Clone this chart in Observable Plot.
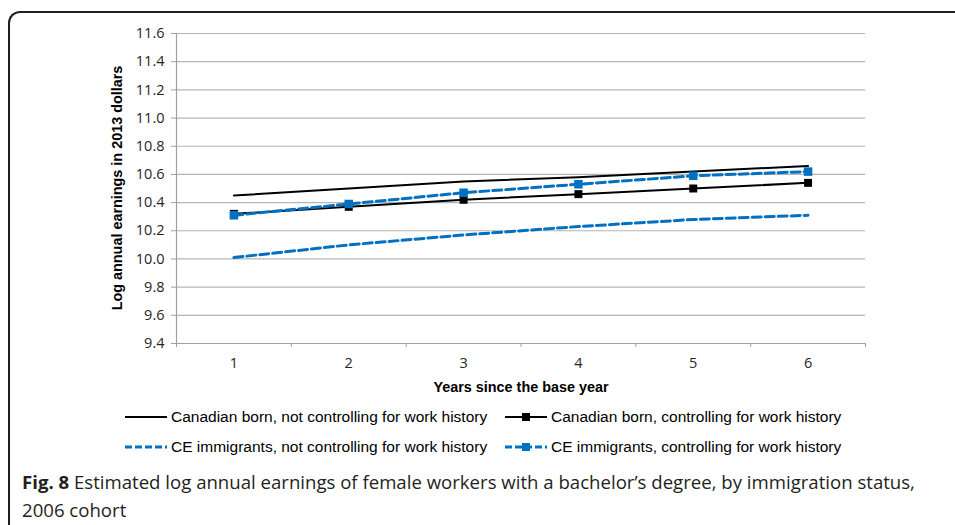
<!DOCTYPE html>
<html>
<head>
<meta charset="utf-8">
<script src="https://cdn.jsdelivr.net/npm/d3@7"></script>
<script src="https://cdn.jsdelivr.net/npm/@observablehq/plot@0.6"></script>
<style>
  html, body { margin: 0; padding: 0; background: #fff; }
  #wrap { position: relative; width: 955px; height: 525px; overflow: hidden; background: #fff; }
  #frame { position: absolute; left: 8px; top: 11px; width: 1000px; height: 560px;
           border-left: 2px solid #231f20; border-top: 2px solid #231f20; border-top-left-radius: 12px; }
  #chart { position: absolute; left: 0; top: 0; }
  .ct { font-family: "Liberation Sans Narrow", "Liberation Sans", sans-serif; color: #000; }
  #xtitle { position: absolute; top: 379px; left: 0; width: 1042px; text-align: center; font-weight: bold; font-size: 14.4px; }
  #ytitle { position: absolute; left: 117px; top: 188px; transform: translate(-50%, -50%) rotate(-90deg); white-space: nowrap; font-weight: bold; font-size: 14.4px; }
  .leg { position: absolute; display: flex; align-items: center; font-size: 15.5px; white-space: nowrap; }
  .leg svg { margin-right: 4px; }
  #caption { position: absolute; left: 22px; top: 468px; width: 930px; font-family: "Open Sans", sans-serif; font-size: 18.6px; line-height: 28px; color: #231f20; white-space: nowrap; }
</style>
</head>
<body>
<div id="wrap">
  <div id="frame"></div>
  <div id="chart"></div>
  <div id="xtitle" class="ct">Years since the base year</div>
  <div id="ytitle" class="ct">Log annual earnings in 2013 dollars</div>
  <div id="legend"></div>
  <div id="caption"><b>Fig. 8</b> Estimated log annual earnings of female workers with a bachelor’s degree, by immigration status,<br>2006 cohort</div>
</div>
<script>
const years = [1, 2, 3, 4, 5, 6];
const seriesNames = [
  "Canadian born, not controlling for work history",
  "Canadian born, controlling for work history",
  "CE immigrants, not controlling for work history",
  "CE immigrants, controlling for work history"
];
const canBornNotCtrl = [10.45, 10.50, 10.55, 10.58, 10.62, 10.66];
const canBornCtrl    = [10.32, 10.37, 10.42, 10.46, 10.50, 10.54];
const ceImmNotCtrl   = [10.01, 10.10, 10.17, 10.23, 10.28, 10.31];
const ceImmCtrl      = [10.31, 10.39, 10.47, 10.53, 10.59, 10.62];
const yTicks = [9.4, 9.6, 9.8, 10.0, 10.2, 10.4, 10.6, 10.8, 11.0, 11.2, 11.4, 11.6];
const xBounds = [0.5, 1.5, 2.5, 3.5, 4.5, 5.5, 6.5];

const black = "#000000";
const blue = "#0070c0";

const toRows = (vals) => years.map((y, i) => ({year: y, value: vals[i]}));
const s1 = toRows(canBornNotCtrl), s2 = toRows(canBornCtrl), s3 = toRows(ceImmNotCtrl), s4 = toRows(ceImmCtrl);

const tickFont = '"Open Sans", sans-serif';

const plot = Plot.plot({
  width: 955,
  height: 400,
  marginLeft: 176,
  marginRight: 90,
  marginTop: 33,
  marginBottom: 57,
  style: {fontFamily: tickFont, fontSize: "14px", color: "#262626", background: "transparent"},
  x: {type: "linear", domain: [0.5, 6.5]},
  y: {type: "linear", domain: [9.4, 11.6]},
  marks: [
    Plot.gridY(yTicks, {stroke: "#b5b5b5", strokeOpacity: 1, strokeWidth: 1.2}),
    Plot.axisY({ticks: yTicks, tickSize: 5, tickPadding: 7, tickFormat: d => d.toFixed(1), stroke: "#a0a0a0", label: null, fill: "#262626", fontSize: 14, fontFamily: tickFont}),
    Plot.axisX({ticks: years, tickSize: 0, tickPadding: 14, tickFormat: d => String(d), label: null, fill: "#262626", fontSize: 14, fontFamily: tickFont}),
    Plot.axisX({ticks: xBounds, tickSize: 4, tickFormat: () => "", stroke: "#a0a0a0", label: null}),
    Plot.ruleX([0.5], {stroke: "#a0a0a0", strokeWidth: 1.2}),
    Plot.ruleY([9.4], {stroke: "#a0a0a0", strokeWidth: 1.2}),
    Plot.line(s1, {x: "year", y: "value", stroke: black, strokeWidth: 2}),
    Plot.line(s2, {x: "year", y: "value", stroke: black, strokeWidth: 2}),
    Plot.dot(s2, {x: "year", y: "value", symbol: "square", r: 4.5, fill: black, stroke: "none"}),
    Plot.line(s3, {x: "year", y: "value", stroke: blue, strokeWidth: 3, strokeDasharray: "9,4"}),
    Plot.line(s4, {x: "year", y: "value", stroke: blue, strokeWidth: 3, strokeDasharray: "9,4"}),
    Plot.dot(s4, {x: "year", y: "value", symbol: "square", r: 4.8, fill: blue, stroke: "none"})
  ]
});
d3.select(plot).selectAll("text")
  .style("font-family", tickFont)
  .style("font-size", "14.5px");
document.getElementById("chart").appendChild(plot);

// Legend
const legendSpec = [
  {name: seriesNames[0], color: black, dash: null, width: 2, marker: false, left: 125, top: 406},
  {name: seriesNames[1], color: black, dash: null, width: 2, marker: true, left: 505, top: 406},
  {name: seriesNames[2], color: blue, dash: "7,3", width: 3, marker: false, left: 125, top: 436},
  {name: seriesNames[3], color: blue, dash: "7,3", width: 3, marker: true, left: 505, top: 436}
];
const legend = document.getElementById("legend");
legendSpec.forEach(s => {
  const d = document.createElement("div");
  d.className = "leg ct";
  d.style.left = s.left + "px";
  d.style.top = s.top + "px";
  d.style.height = "22px";
  const dash = s.dash ? `stroke-dasharray="${s.dash}"` : "";
  const mk = s.marker ? `<rect x="17" y="7" width="8" height="8" fill="${s.color}"/>` : "";
  d.innerHTML = `<svg width="42" height="22"><line x1="0" x2="42" y1="11" y2="11" stroke="${s.color}" stroke-width="${s.width}" ${dash}/>${mk}</svg><span>${s.name}</span>`;
  legend.appendChild(d);
});
</script>
</body>
</html>
